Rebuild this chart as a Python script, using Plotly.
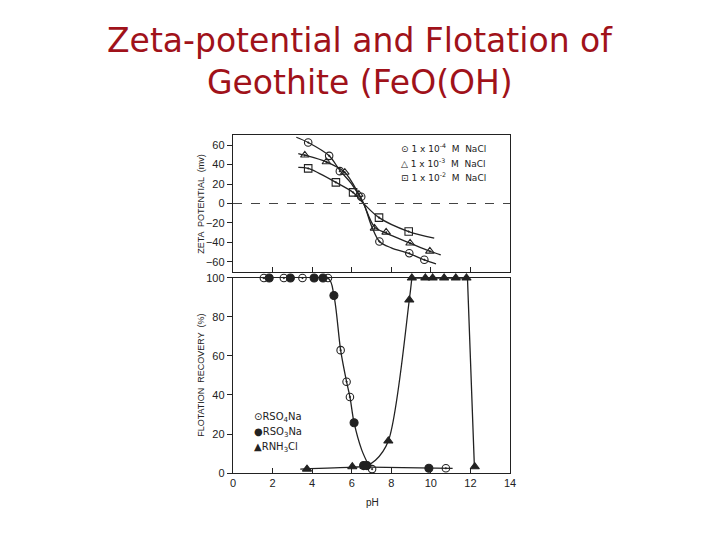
import plotly.graph_objects as go
from plotly.subplots import make_subplots

INK = "#222222"
TITLE_RED = "#a0121a"

# --- zeta potential (mV) vs pH, three NaCl concentrations ---
ph_1e4 = [3.80, 4.86, 5.40, 6.48, 7.40, 8.91, 9.67]
zeta_1e4 = [62.6, 48.9, 33.2, 7.0, -39.0, -51.0, -57.8]
ph_1e3 = [3.63, 4.72, 5.65, 6.36, 7.15, 7.74, 8.95, 9.95]
zeta_1e3 = [49.6, 42.7, 32.0, 9.4, -25.4, -29.5, -40.7, -49.0]
ph_1e2 = [3.80, 5.20, 6.07, 7.38, 8.88]
zeta_1e2 = [36.0, 21.7, 11.4, -14.5, -28.8]

# hand-drawn curves through the zeta points
curve_ph_1e4 = [3.2, 3.8, 4.86, 5.4, 6.0, 6.6, 7.0, 7.4, 8.0, 8.91, 9.67, 10.26]
curve_zeta_1e4 = [68, 62.6, 49, 34, 20, 0, -23, -39, -45.5, -51.5, -57.8, -62]
curve_ph_1e3 = [3.3, 3.63, 4.72, 5.65, 6.36, 6.6, 7.15, 7.74, 8.95, 9.95, 10.5]
curve_zeta_1e3 = [51.3, 49.6, 42.7, 32, 9.4, 0, -24, -30.5, -40.7, -49, -52.7]
curve_ph_1e2 = [3.3, 3.8, 5.2, 6.07, 6.6, 7.38, 8.88, 10.17]
curve_zeta_1e2 = [37, 36, 21.7, 11.4, 0, -14.5, -28.8, -35.6]

# --- flotation recovery (%) vs pH ---
rso4_ph = [1.56, 2.57, 3.51, 4.80, 5.44, 5.74, 5.91, 7.03, 10.76]
rso4_rec = [100, 100, 100, 100, 63, 46.8, 39, 2.0, 2.4]
rso3_ph = [1.83, 2.90, 4.10, 4.55, 5.10, 6.12, 6.60, 6.77, 9.90]
rso3_rec = [100, 100, 100, 100, 91, 25.8, 3.8, 3.8, 2.4]
rnh3_ph = [3.74, 6.03, 6.65, 7.85, 8.91, 9.04, 9.72, 10.09, 10.67, 11.26, 11.80, 12.22]
rnh3_rec = [2.0, 3.2, 3.3, 16.4, 88.7, 100, 100, 100, 100, 100, 100, 3.2]

# curves drawn through the flotation points
anion_fall_ph = [1.5, 4.8, 5.1, 5.44, 5.74, 5.91, 6.12, 6.5, 6.9]
anion_fall_rec = [100, 100, 91, 63, 46.8, 39, 25.8, 12, 3]
anion_base_ph = [6.9, 11.1]
anion_base_rec = [3, 2.4]
cation_rise_ph = [3.4, 6.03, 6.7, 7.2, 7.85, 8.91, 9.04]
cation_rise_rec = [2.0, 3.0, 3.5, 6.5, 16.4, 88.7, 100]
cation_top_ph = [9.04, 11.85, 12.2]
cation_top_rec = [100, 100, 3.2]

zeta_ticks = [60, 40, 20, 0, -20, -40, -60]
rec_ticks = [0, 20, 40, 60, 80, 100]
ph_ticks = [0, 2, 4, 6, 8, 10, 12, 14]

fig = make_subplots(rows=2, cols=1, shared_xaxes=True, vertical_spacing=0.015)


def curve(x, y, row, shape="spline"):
    fig.add_trace(
        go.Scatter(x=x, y=y, mode="lines", line=dict(color=INK, width=1.3, shape=shape, smoothing=0.9),
                   hoverinfo="skip", showlegend=False),
        row=row, col=1,
    )


def points(x, y, row, symbol, size=7, name=None):
    fig.add_trace(
        go.Scatter(x=x, y=y, mode="markers", name=name, cliponaxis=False, showlegend=False,
                   marker=dict(symbol=symbol, size=size, color=INK, line=dict(color=INK, width=1.1))),
        row=row, col=1,
    )


# zeta panel
curve(curve_ph_1e4, curve_zeta_1e4, 1)
curve(curve_ph_1e3, curve_zeta_1e3, 1)
curve(curve_ph_1e2, curve_zeta_1e2, 1)
points(ph_1e4, zeta_1e4, 1, "circle-open-dot", size=7.5, name="1e-4 M NaCl")
points(ph_1e3, zeta_1e3, 1, "triangle-up-open-dot", size=7.5, name="1e-3 M NaCl")
points(ph_1e2, zeta_1e2, 1, "square-open-dot", size=7.5, name="1e-2 M NaCl")

# flotation panel
curve(anion_fall_ph, anion_fall_rec, 2)
curve(anion_base_ph, anion_base_rec, 2, shape="linear")
curve(cation_rise_ph, cation_rise_rec, 2)
curve(cation_top_ph, cation_top_rec, 2, shape="linear")
points(rso4_ph, rso4_rec, 2, "circle-open-dot", size=7.5, name="RSO4Na")
points(rso3_ph, rso3_rec, 2, "circle", size=8, name="RSO3Na")
points(rnh3_ph, rnh3_rec, 2, "triangle-up", size=8, name="RNH3Cl")

axis_font = dict(family="Liberation Sans, Arial", size=11, color="#222222")
frame = dict(showline=True, linecolor=INK, linewidth=1.4, mirror=True, showgrid=False, zeroline=False)

fig.update_xaxes(range=[0, 14], tickvals=ph_ticks, ticks="inside", ticklen=5, tickcolor=INK,
                 tickfont=axis_font, **frame)
fig.update_xaxes(showticklabels=False, row=1, col=1)
fig.update_yaxes(range=[-70.3, 70.3], tickvals=zeta_ticks, ticks="outside", ticklen=5, tickcolor=INK,
                 tickfont=axis_font, domain=[0.5947, 1.0], row=1, col=1, **frame)
fig.update_yaxes(range=[0, 100.25], tickvals=rec_ticks, ticks="outside", ticklen=5, tickcolor=INK,
                 tickfont=axis_font, domain=[0.0, 0.5784], row=2, col=1, **frame)

# dashed zero line of the zeta panel
fig.add_hline(y=0, line=dict(color="#444444", width=1, dash="dash"), row=1, col=1)

label_font = dict(family="Liberation Sans, Arial", size=9, color="#222222")
fig.add_annotation(text="ZETA  POTENTIAL  (mv)", textangle=-90, x=-0.116, y=0.796,
                   xref="paper", yref="paper", xanchor="center", yanchor="middle",
                   showarrow=False, font=label_font)
fig.add_annotation(text="FLOTATION  RECOVERY  (%)", textangle=-90, x=-0.116, y=0.29,
                   xref="paper", yref="paper", xanchor="center", yanchor="middle",
                   showarrow=False, font=label_font)
fig.add_annotation(text="pH", x=0.502, y=-0.086, xref="paper", yref="paper",
                   xanchor="center", yanchor="middle", showarrow=False,
                   font=dict(family="Liberation Sans, Arial", size=10, color="#222222"))

# legends drawn as text, as in the scanned figure
legend_font = dict(family="DejaVu Sans, Liberation Sans", size=9, color="#222222")
zeta_legend = ["⊙ 1 x 10<sup>-4</sup>  M  NaCl", "△ 1 x 10<sup>-3</sup>  M  NaCl", "⊡ 1 x 10<sup>-2</sup>  M  NaCl"]
for i, txt in enumerate(zeta_legend):
    fig.add_annotation(text=txt, x=0.599, y=0.9615 - i * 0.043, xref="paper", yref="paper",
                       xanchor="left", yanchor="middle", showarrow=False, font=legend_font)
flot_legend = ["⊙RSO<sub>4</sub>Na", "●RSO<sub>3</sub>Na", "▲RNH<sub>3</sub>Cl"]
for i, txt in enumerate(flot_legend):
    fig.add_annotation(text=txt, x=0.069, y=0.163 - i * 0.0445, xref="paper", yref="paper",
                       xanchor="left", yanchor="middle", showarrow=False,
                       font=dict(family="DejaVu Sans, Liberation Sans", size=10, color="#222222"))

# two-line title
title_font = dict(family="DejaVu Sans", size=33, color=TITLE_RED)
fig.add_annotation(text="Zeta-potential and Flotation of", x=0.4585, y=1.281, xref="paper", yref="paper",
                   xanchor="center", yanchor="middle", showarrow=False, font=title_font)
fig.add_annotation(text="Geothite (FeO(OH)", x=0.4585, y=1.154, xref="paper", yref="paper",
                   xanchor="center", yanchor="middle", showarrow=False, font=title_font)

# body of the html page has an 8px margin, so the margins are offset by it
fig.update_layout(
    width=720,
    height=540,
    margin=dict(l=225, r=218, t=127, b=75),
    paper_bgcolor="white",
    plot_bgcolor="white",
    showlegend=False,
)

fig.write_html("out.html")
